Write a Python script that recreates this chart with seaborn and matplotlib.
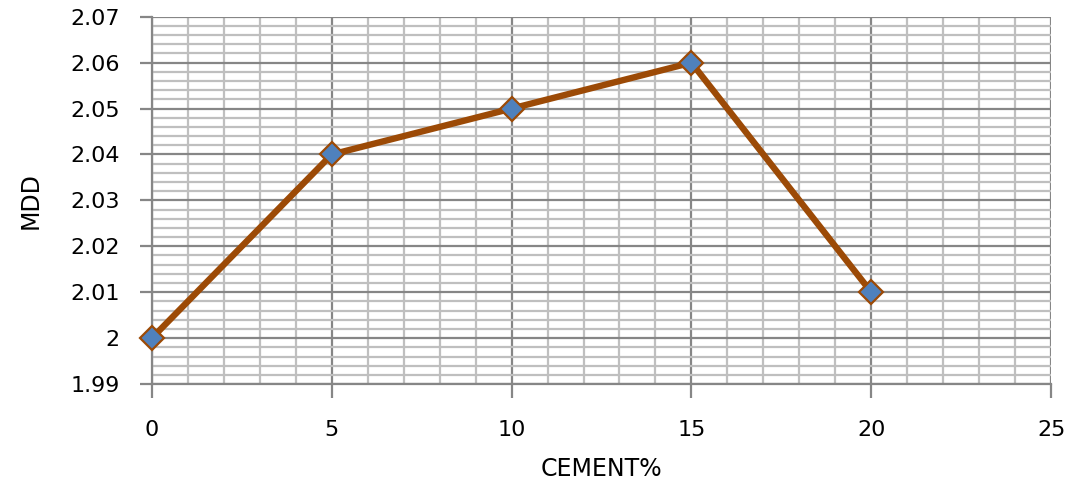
import matplotlib
matplotlib.use("Agg")
import matplotlib.pyplot as plt
from matplotlib.ticker import MultipleLocator, FuncFormatter
import seaborn as sns
import pandas as pd

# Maximum dry density against cement content
cement_pct = [0, 5, 10, 15, 20]
mdd = [2.00, 2.04, 2.05, 2.06, 2.01]

df = pd.DataFrame({"CEMENT%": cement_pct, "MDD": mdd})

sns.set_theme(style="white")
plt.rcParams["font.family"] = ["DejaVu Sans"]

fig = plt.figure(figsize=(10.77, 4.93), dpi=100)
ax = fig.add_axes([0.141, 0.221, 0.835, 0.745])

line_col = "#9C4A06"
sns.lineplot(data=df, x="CEMENT%", y="MDD", ax=ax, color=line_col, linewidth=4.6,
             marker="D", markersize=12, markerfacecolor="#4F81BD",
             markeredgecolor=line_col, markeredgewidth=1.6, zorder=5, clip_on=False)

ax.set_xlim(0, 25)
ax.set_ylim(1.99, 2.07)
ax.xaxis.set_major_locator(MultipleLocator(5))
ax.xaxis.set_minor_locator(MultipleLocator(1))
ax.yaxis.set_major_locator(MultipleLocator(0.01))
ax.yaxis.set_minor_locator(MultipleLocator(0.002))
ax.yaxis.set_major_formatter(FuncFormatter(lambda v, p: f"{round(v, 4):g}"))

ax.grid(which="minor", color="#BFBFBF", linewidth=1.6, zorder=0)
ax.grid(which="major", color="#868686", linewidth=1.6, zorder=1)
ax.set_axisbelow(True)

for s in ["top", "right"]:
    ax.spines[s].set_visible(False)
for s in ["left", "bottom"]:
    ax.spines[s].set_color("#868686")
    ax.spines[s].set_linewidth(1.6)

ax.tick_params(axis="y", which="major", direction="out", length=9, width=1.6,
               color="#868686", left=True, labelsize=16, pad=14, labelcolor="black")
ax.tick_params(axis="x", which="major", direction="out", length=10, width=1.6,
               color="#868686", bottom=True, labelsize=16, pad=16, labelcolor="black")
ax.tick_params(which="minor", left=False, bottom=False, top=False, right=False, length=0)

ax.set_xlabel("CEMENT%", fontsize=17, labelpad=12, color="black")
ax.set_ylabel("MDD", fontsize=17, labelpad=20, color="black")

fig.savefig("out.png", dpi=100)
